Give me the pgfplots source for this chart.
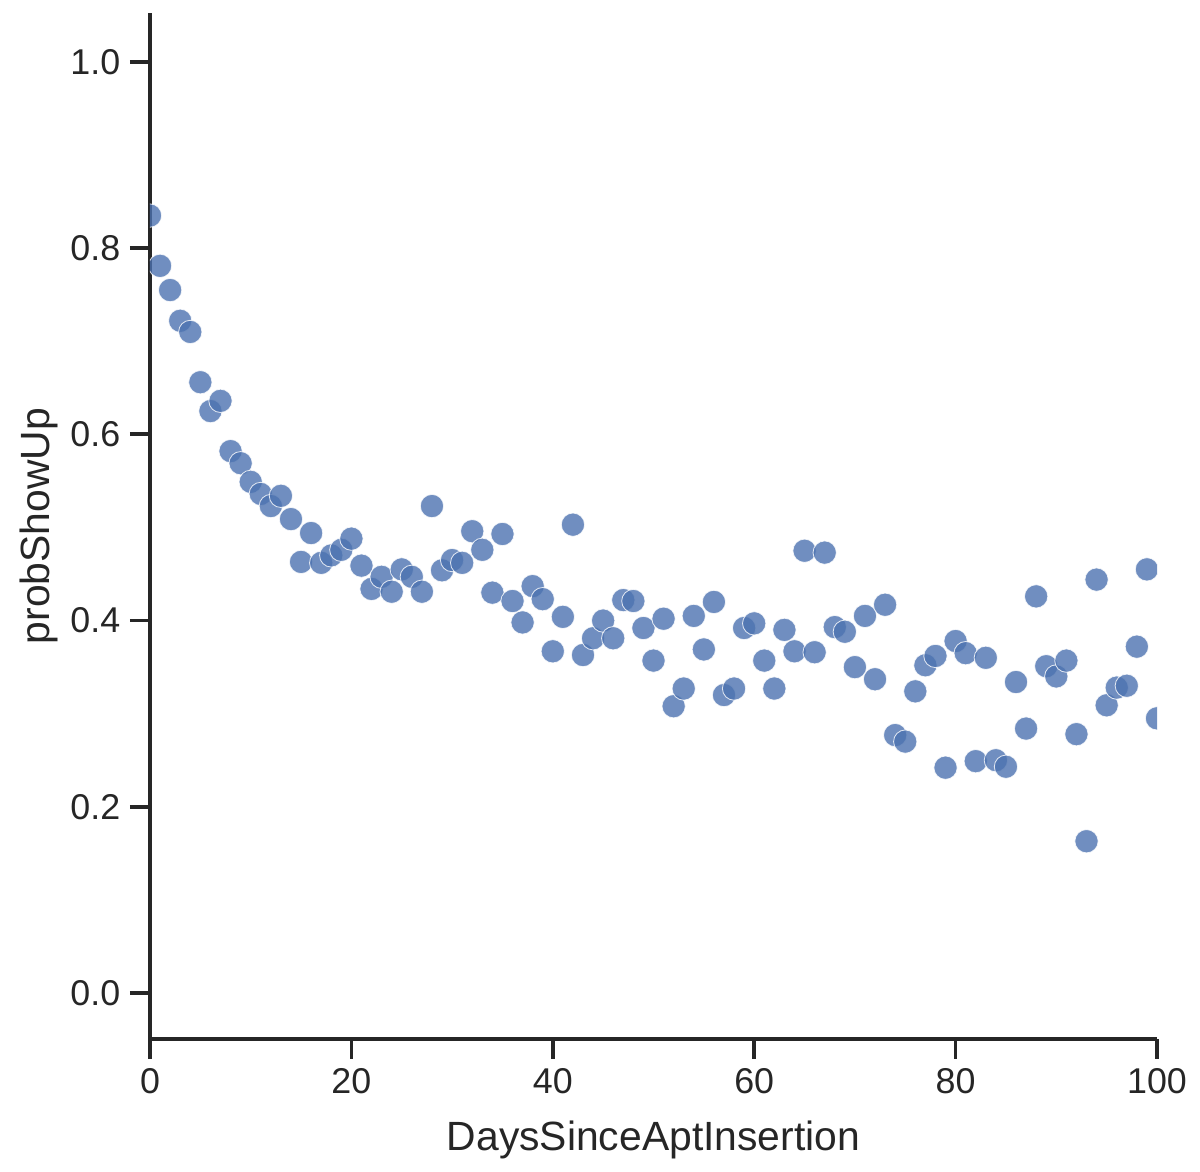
\documentclass[border=0pt]{standalone}
\usepackage{fontspec}
\setmainfont{Liberation Sans}
\usepackage{pgfplots}
\usepackage{pgfplotstable}
\pgfplotsset{compat=1.18}

\definecolor{sbblue}{HTML}{4C72B0}
\definecolor{spine}{HTML}{262626}

% days since insertion, share of patients showing up
\pgfplotstableread{
d p
0 0.835
1 0.781
2 0.755
3 0.722
4 0.710
5 0.656
6 0.625
7 0.636
8 0.582
9 0.569
10 0.549
11 0.536
12 0.523
13 0.534
14 0.509
15 0.463
16 0.494
17 0.462
18 0.470
19 0.476
20 0.488
21 0.459
22 0.434
23 0.447
24 0.431
25 0.455
26 0.447
27 0.431
28 0.523
29 0.454
30 0.465
31 0.462
32 0.496
33 0.476
34 0.430
35 0.493
36 0.421
37 0.398
38 0.437
39 0.423
40 0.367
41 0.404
42 0.503
43 0.363
44 0.381
45 0.400
46 0.381
47 0.422
48 0.421
49 0.392
50 0.357
51 0.402
52 0.308
53 0.327
54 0.405
55 0.369
56 0.420
57 0.320
58 0.327
59 0.392
60 0.397
61 0.357
62 0.327
63 0.390
64 0.367
65 0.475
66 0.366
67 0.473
68 0.393
69 0.388
70 0.350
71 0.405
72 0.337
73 0.417
74 0.277
75 0.270
76 0.324
77 0.352
78 0.362
79 0.242
80 0.378
81 0.365
82 0.249
83 0.360
84 0.250
85 0.243
86 0.334
87 0.284
88 0.426
89 0.351
90 0.340
91 0.357
92 0.278
93 0.163
94 0.444
95 0.309
96 0.328
97 0.330
98 0.372
99 0.455
100 0.295
101 0.340
}\showup

\begin{document}
\begin{tikzpicture}
\useasboundingbox (-54pt,-47.88pt) rectangle (378pt,374.04pt);
\begin{axis}[
    at={(0,0)}, anchor=south west,
    scale only axis,
    width=362.52pt, height=369.36pt,
    xmin=0, xmax=100,
    ymin=-0.0494, ymax=1.0526,
    axis x line*=bottom, axis y line*=left,
    axis line style={spine, line width=1.35pt, -},
    tick align=outside,
    major tick length=7.2pt,
    tick style={spine, line width=1.35pt},
    xtick={0,20,40,60,80,100},
    ytick={0,0.2,0.4,0.6,0.8,1.0},
    yticklabel style={/pgf/number format/.cd, fixed, fixed zerofill, precision=1},
    /pgf/number format/assume math mode=true,
    ticklabel style={font=\fontsize{12.9}{15}\selectfont, text=spine},
    label style={font=\fontsize{14.7}{17}\selectfont, text=spine},
    xlabel={DaysSinceAptInsertion},
    ylabel={probShowUp},
    xlabel style={at={(axis description cs:0.5,-0.1083)}, anchor=base},
    ylabel style={at={(axis description cs:-0.0993,0.5)}, anchor=base},
    clip marker paths=true,
]
\addplot [only marks, mark=*, mark size=4.2pt,
    mark options={fill=sbblue, draw=white, line width=0.3pt, opacity=0.8}]
    table [x=d, y=p] {\showup};
\end{axis}
\end{tikzpicture}
\end{document}
